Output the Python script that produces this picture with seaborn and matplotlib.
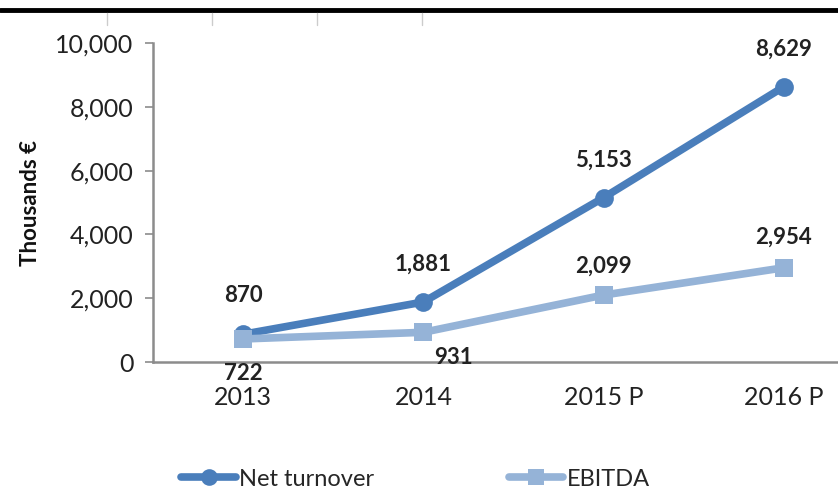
import pandas as pd
import seaborn as sns
import matplotlib.pyplot as plt
from matplotlib.lines import Line2D

years = ["2013", "2014", "2015 P", "2016 P"]
net_turnover = [870, 1881, 5153, 8629]
ebitda = [722, 931, 2099, 2954]

# label offsets (points) for the data labels
net_offsets = [(0, 28), (0, 27), (0, 27), (0, 27)]
ebitda_offsets = [(0, -25), (22, -18), (0, 21), (0, 22)]

df = pd.DataFrame({
    "year": years * 2,
    "value": net_turnover + ebitda,
    "series": ["Net turnover"] * 4 + ["EBITDA"] * 4,
})

sns.set_style("white")
plt.rcParams["font.family"] = ["Lato", "DejaVu Sans"]

fig = plt.figure(figsize=(8.38, 4.91), dpi=100)
ax = fig.add_axes([153 / 838, 1 - 362 / 491, 721 / 838, 319 / 491])

colors = {"Net turnover": "#4a7ebb", "EBITDA": "#95b3d7"}
sns.lineplot(data=df, x="year", y="value", hue="series", style="series",
             palette=colors, markers={"Net turnover": "o", "EBITDA": "s"},
             dashes=False, linewidth=5.5, markersize=13.5, markeredgewidth=0,
             ax=ax, legend=False)

for i, v in enumerate(net_turnover):
    ax.annotate(f"{v:,}", (i, v), xytext=net_offsets[i], textcoords="offset points",
                ha="center", va="center", fontsize=16, fontweight="bold", color="#222222")
for i, v in enumerate(ebitda):
    ax.annotate(f"{v:,}", (i, v), xytext=ebitda_offsets[i], textcoords="offset points",
                ha="center", va="center", fontsize=16, fontweight="bold", color="#222222")

ax.set_xlim(-0.5, 3.5)
ax.set_ylim(0, 10000)
ax.set_yticks(range(0, 10001, 2000))
ax.set_yticklabels([f"{t:,}" for t in range(0, 10001, 2000)])
ax.set_xticks(range(4))
ax.set_xticklabels(years)
ax.set_xticks([-0.5, 0.5, 1.5, 2.5], minor=True)
ax.tick_params(axis="x", which="major", length=0, labelsize=18, pad=17, colors="#222222")
ax.tick_params(axis="x", which="minor", length=6, width=1.5, color="#8c8c8c", direction="out")
ax.tick_params(axis="y", length=6, width=1.2, color="#8c8c8c", labelsize=18, pad=8,
               left=True, direction="out", labelcolor="#222222")
ax.set_xlabel("")
ax.set_ylabel("Thousands €", fontsize=16, fontweight="bold", labelpad=10, color="#111111")

for side in ["top", "right"]:
    ax.spines[side].set_visible(False)
for side in ["left", "bottom"]:
    ax.spines[side].set_color("#8c8c8c")
    ax.spines[side].set_linewidth(1.8)

handles = [
    Line2D([], [], color=colors["Net turnover"], lw=5.5, marker="o", markersize=12, markeredgewidth=0),
    Line2D([], [], color=colors["EBITDA"], lw=5.5, marker="s", markersize=12, markeredgewidth=0),
]
fig.legend(handles, ["Net turnover", "EBITDA"], loc="center", bbox_to_anchor=(0.496, 0.024),
           ncol=2, frameon=False, fontsize=17, handlelength=2.3, handletextpad=0.15,
           columnspacing=5.7, borderpad=0)

# black rule at the top of the image
fig.add_artist(Line2D([0, 1], [1 - 10 / 491, 1 - 10 / 491], color="black", lw=3.5,
                      transform=fig.transFigure))
for xp in [107, 212, 317, 422]:
    fig.add_artist(Line2D([xp / 838, xp / 838], [1 - 13 / 491, 1 - 25 / 491],
                          color="#cccccc", lw=1, transform=fig.transFigure))

fig.savefig("out.png", dpi=100)
